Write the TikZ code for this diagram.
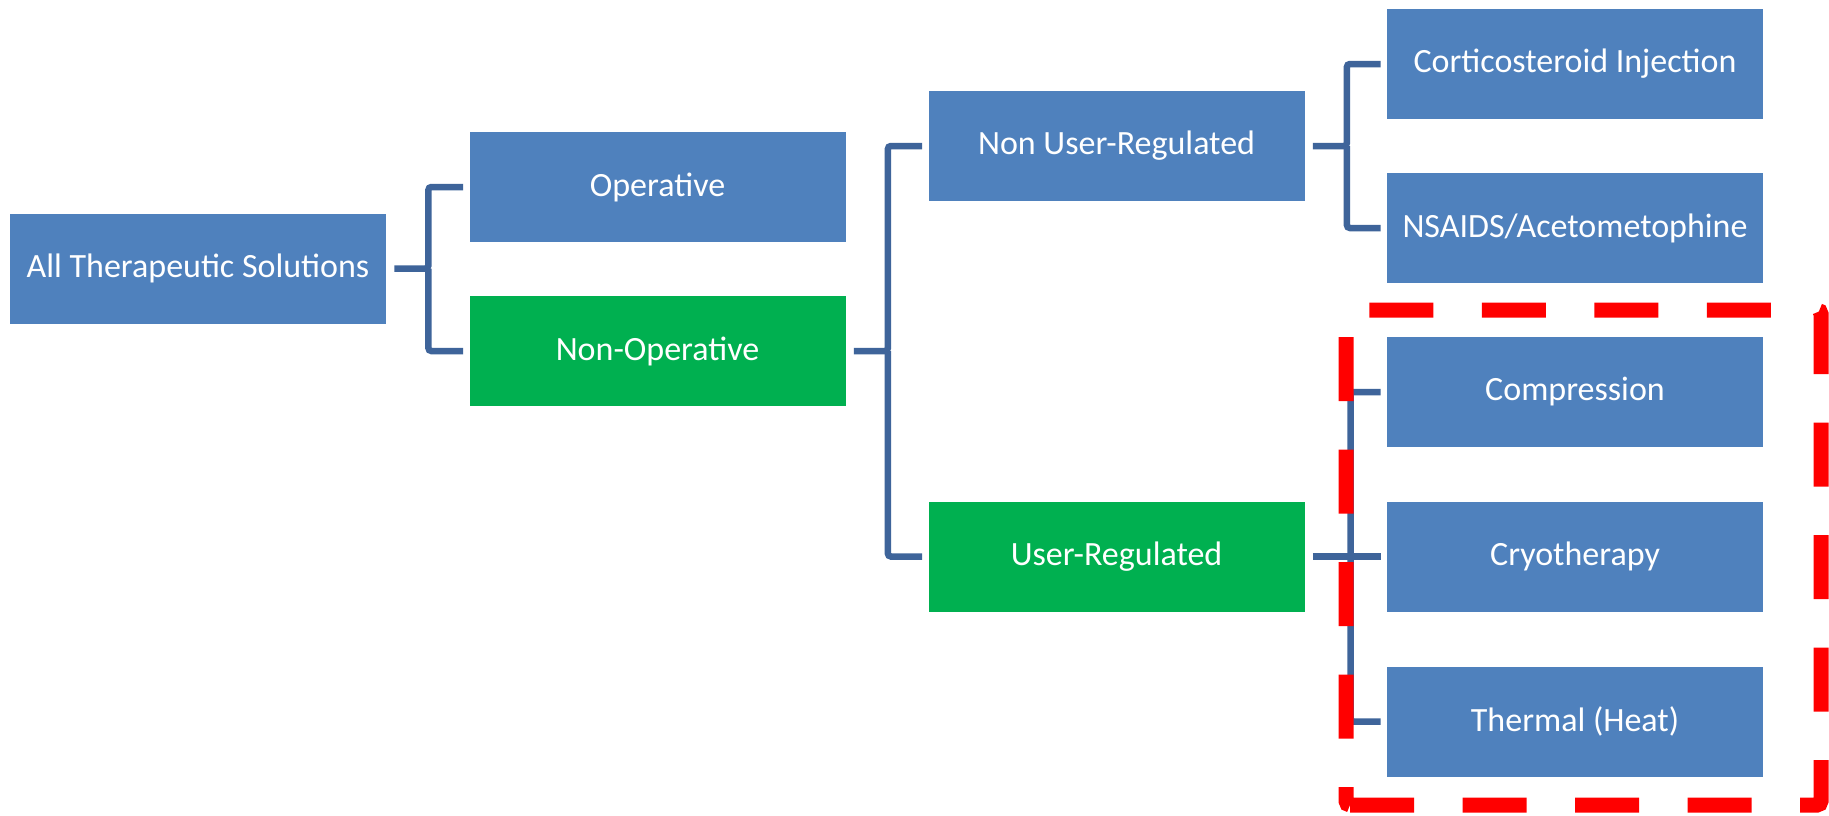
\documentclass[tikz,border=0pt]{standalone}
\usepackage{fontspec}
\setmainfont{Carlito}
\definecolor{boxblue}{RGB}{79,129,189}
\definecolor{boxgreen}{RGB}{0,176,80}
\definecolor{linkblue}{RGB}{62,100,154}
\begin{document}
\begin{tikzpicture}[x=0.5pt, y=-0.5pt,
  every node/.style={font=\fontsize{17pt}{20pt}\selectfont, text=white},
  cat/.style={fill=boxblue, minimum width=188pt, minimum height=55pt, inner sep=0pt},
  chosen/.style={cat, fill=boxgreen},
  link/.style={draw=linkblue, line width=3.25pt, rounded corners=1.5pt},
  redmark/.style={draw=red, line width=7.5pt, dash pattern=on 32pt off 24.25pt, rounded corners=2pt}]
\useasboundingbox[fill=white] (0,0) rectangle (1829,815);
% first column
\node[cat] (all) at (198,268.5) {All Therapeutic Solutions};
% second column
\node[cat] (op) at (657.5,187) {Operative};
\node[chosen] (nonop) at (657.5,351) {Non-Operative};
% third column
\node[cat] (nur) at (1116.5,146) {Non User-Regulated};
\node[chosen] (ur) at (1116.5,556.5) {User-Regulated};
% last column
\node[cat] (cort) at (1575,64) {Corticosteroid Injection};
\node[cat] (nsaid) at (1575,228) {NSAIDS/Acetometophine};
\node[cat] (comp) at (1575,392) {Compression};
\node[cat] (cryo) at (1575,556.5) {Cryotherapy};
\node[cat] (therm) at (1575,721.5) {Thermal (Heat)};
% brackets
\draw[link] ([xshift=4pt]all.east) -- ([xshift=21pt]all.east) |- ([xshift=-3pt]op.west);
\draw[link] ([xshift=21pt]all.east) |- ([xshift=-3pt]nonop.west);
\draw[link] ([xshift=4pt]nonop.east) -- ([xshift=21pt]nonop.east) |- ([xshift=-3pt]nur.west);
\draw[link] ([xshift=21pt]nonop.east) |- ([xshift=-3pt]ur.west);
\draw[link] ([xshift=4pt]nur.east) -- ([xshift=21pt]nur.east) |- ([xshift=-3pt]cort.west);
\draw[link] ([xshift=21pt]nur.east) |- ([xshift=-3pt]nsaid.west);
\draw[link] ([xshift=4pt]ur.east) -- ([xshift=-3pt]cryo.west);
\draw[link] ([xshift=-3pt]comp.west) -- ([xshift=-18pt]comp.west) -- ([xshift=-18pt]therm.west) -- ([xshift=-3pt]therm.west);
% red marking
\draw[redmark] (1346,805) -- (1821,805) -- (1821,310) -- (1346,310) -- cycle;
\end{tikzpicture}
\end{document}
